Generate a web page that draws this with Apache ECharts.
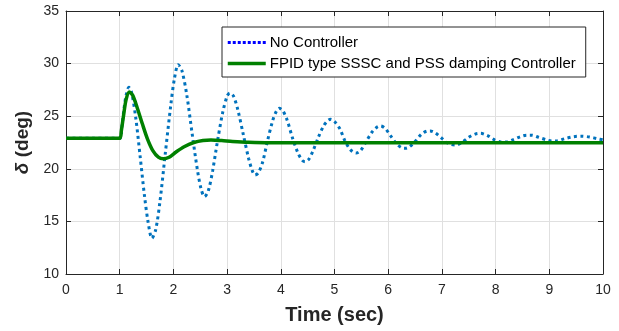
<!DOCTYPE html>
<html>
<head>
<meta charset="utf-8">
<script src="https://cdn.jsdelivr.net/npm/echarts@6/dist/echarts.min.js"></script>
<style>html,body{margin:0;padding:0;background:#fff}#c{width:619px;height:331px}</style>
</head>
<body>
<div id="c"></div>
<script>
// Data
var timeNoCtrl = [0,0.5,1.0,1.04,1.08,1.12,1.17,1.22,1.3,1.38,1.46,1.53,1.6,1.67,1.75,1.85,1.95,2.02,2.09,2.16,2.25,2.35,2.45,2.52,2.58,2.65,2.73,2.82,2.92,3.0,3.05,3.12,3.2,3.3,3.4,3.47,3.52,3.58,3.66,3.75,3.85,3.92,3.97,4.04,4.12,4.22,4.32,4.4,4.45,4.52,4.6,4.7,4.8,4.88,4.93,5.0,5.1,5.2,5.3,5.4,5.48,5.58,5.7,5.8,5.86,5.95,6.05,6.15,6.25,6.32,6.4,6.5,6.62,6.72,6.78,6.88,7.0,7.12,7.25,7.36,7.5,7.62,7.72,7.85,7.98,8.1,8.2,8.32,8.46,8.58,8.67,8.8,8.95,9.05,9.14,9.28,9.45,9.6,9.75,9.9,10];
var deltaNoCtrl = [22.9,22.9,22.9,24.0,25.7,27.0,27.75,27.3,24.8,21.2,17.5,14.9,13.4,14.2,16.9,21.5,26.0,28.6,29.9,29.3,27.0,23.3,19.8,18.0,17.35,17.9,19.8,22.6,25.4,26.9,27.2,26.9,25.6,23.3,21.0,19.8,19.4,19.6,20.6,22.6,24.6,25.5,25.75,25.5,24.6,22.9,21.5,20.8,20.67,20.9,21.7,23.0,24.1,24.6,24.7,24.5,23.8,22.6,21.8,21.5,21.7,22.5,23.5,24.0,24.07,23.8,23.1,22.4,22.0,21.95,22.1,22.6,23.3,23.58,23.6,23.4,22.9,22.4,22.26,22.45,23.0,23.3,23.37,23.15,22.75,22.55,22.55,22.75,23.05,23.2,23.2,23.0,22.75,22.65,22.65,22.85,23.05,23.1,23.02,22.85,22.75];
var timeFPID = [0,1.0,1.03,1.07,1.12,1.18,1.24,1.32,1.42,1.52,1.62,1.72,1.81,1.92,2.05,2.2,2.38,2.55,2.7,2.9,3.1,3.4,3.8,10];
var deltaFPID = [22.9,22.9,23.6,25.0,26.6,27.3,27.0,25.9,24.3,22.8,21.7,21.1,20.95,21.1,21.6,22.1,22.5,22.7,22.74,22.68,22.6,22.52,22.48,22.48];
var seriesNames = ['No Controller', 'FPID type SSSC and PSS damping Controller'];
var xTicks = {min: 0, max: 10, step: 1};
var yTicks = {min: 10, max: 35, step: 5};

function pairs(t, v) { return t.map(function (x, i) { return [x, v[i]]; }); }

var chart = echarts.init(document.getElementById('c'), null, {renderer: 'canvas'});
var txt = '#262626';
var font = 'Liberation Sans, Arial, Helvetica, sans-serif';
var axisCommon = {
  axisLine: {show: true, onZero: false, lineStyle: {color: txt, width: 1}},
  axisTick: {show: true, inside: true, length: 5, lineStyle: {color: txt}},
  splitLine: {show: false}
};
chart.setOption({
  animation: false,
  textStyle: {fontFamily: font},
  grid: {left: 66, right: 16, top: 11, bottom: 57},
  legend: {
    orient: 'vertical', left: 222, top: 27,
    padding: [8, 10, 6, 4], itemGap: 6, itemWidth: 38, itemHeight: 14,
    borderColor: txt, borderWidth: 1, backgroundColor: '#fff',
    textStyle: {fontSize: 15, color: '#000', fontFamily: font, padding: [0, 0, 0, -1]},
    data: [
      {name: seriesNames[0], itemStyle: {opacity: 0}, lineStyle: {color: '#0000ff', type: [3, 2], width: 3, opacity: 1}},
      {name: seriesNames[1], itemStyle: {opacity: 0}, lineStyle: {color: '#008000', width: 3.5, opacity: 1}}
    ]
  },
  xAxis: [
    Object.assign({type: 'value', min: xTicks.min, max: xTicks.max, interval: xTicks.step,
      name: 'Time (sec)', nameLocation: 'middle', nameGap: 31,
      nameTextStyle: {fontSize: 20, fontWeight: 'bold', color: txt, fontFamily: font},
      axisLabel: {fontSize: 14, color: txt, margin: 9, fontFamily: font},
      splitLine: {show: true, lineStyle: {color: '#e0e0e0', width: 1}}}, {
      axisLine: axisCommon.axisLine, axisTick: axisCommon.axisTick}),
    Object.assign({type: 'value', position: 'top', min: xTicks.min, max: xTicks.max, interval: xTicks.step,
      axisLabel: {show: false}}, axisCommon)
  ],
  yAxis: [
    Object.assign({type: 'value', min: yTicks.min, max: yTicks.max, interval: yTicks.step,
      name: '{i|δ} (deg)', nameLocation: 'middle', nameGap: 30, nameRotate: 90,
      nameTextStyle: {fontSize: 19, fontWeight: 'bold', color: txt, fontFamily: font,
        rich: {i: {fontSize: 19, fontWeight: 'bold', fontStyle: 'italic', color: txt, fontFamily: font}}},
      axisLabel: {fontSize: 14, color: txt, margin: 7, fontFamily: font},
      splitLine: {show: true, lineStyle: {color: '#e0e0e0', width: 1}}}, {
      axisLine: axisCommon.axisLine, axisTick: axisCommon.axisTick}),
    Object.assign({type: 'value', position: 'right', min: yTicks.min, max: yTicks.max, interval: yTicks.step,
      axisLabel: {show: false}}, axisCommon)
  ],
  series: [
    {name: seriesNames[0], type: 'line', data: pairs(timeNoCtrl, deltaNoCtrl), symbol: 'none',
      smooth: 0.3, xAxisIndex: 0, yAxisIndex: 0,
      lineStyle: {color: '#0072BD', width: 3, type: [3, 3.5]}, itemStyle: {color: '#0072BD'}, z: 2},
    {name: seriesNames[1], type: 'line', data: pairs(timeFPID, deltaFPID), symbol: 'none',
      smooth: 0.3, xAxisIndex: 0, yAxisIndex: 0,
      lineStyle: {color: '#008000', width: 3.5}, itemStyle: {color: '#008000'}, z: 3}
  ]
});
</script>
</body>
</html>
